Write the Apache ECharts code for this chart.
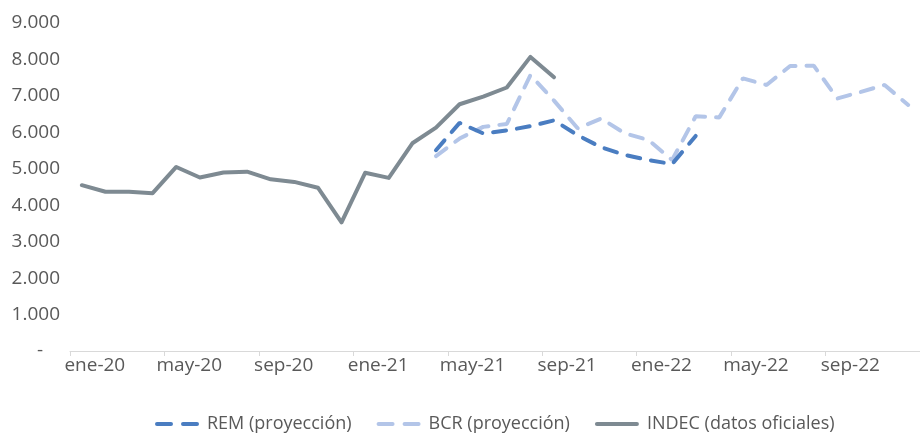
<!DOCTYPE html>
<html>
<head>
<meta charset="utf-8">
<script src="https://cdn.jsdelivr.net/npm/echarts@6/dist/echarts.min.js"></script>
<style>
  html, body { margin: 0; padding: 0; background: #fff; }
  #chart { width: 920px; height: 435px; }
</style>
</head>
<body>
<div id="chart"></div>
<script>
// meses ene-20 .. dic-22
var months = [
  "ene-20","feb-20","mar-20","abr-20","may-20","jun-20","jul-20","ago-20","sep-20","oct-20","nov-20","dic-20",
  "ene-21","feb-21","mar-21","abr-21","may-21","jun-21","jul-21","ago-21","sep-21","oct-21","nov-21","dic-21",
  "ene-22","feb-22","mar-22","abr-22","may-22","jun-22","jul-22","ago-22","sep-22","oct-22","nov-22","dic-22"
];

// INDEC (datos oficiales) ene-20 .. sep-21
var indec = [
  4550, 4370, 4370, 4330, 5050, 4760, 4900, 4920, 4710, 4640, 4480, 3530,
  4890, 4750, 5700, 6130, 6770, 6980, 7230, 8070, 7510
];

// REM (proyección) abr-21 .. mar-22
var rem = [5510, 6260, 5970, 6050, 6170, 6330, 5920, 5590, 5380, 5240, 5130, 5900];

// BCR (proyección) abr-21 .. dic-22
var bcr = [
  5350, 5830, 6150, 6230, 7570, 6870, 6110, 6380, 5970, 5790, 5240, 6440,
  6410, 7480, 7300, 7820, 7830, 6930, 7110, 7300, 6750
];

var yTicks = [0, 1000, 2000, 3000, 4000, 5000, 6000, 7000, 8000, 9000];

function pad(arr, start) {
  var out = [];
  for (var i = 0; i < months.length; i++) {
    var j = i - start;
    out.push(j >= 0 && j < arr.length ? arr[j] : null);
  }
  return out;
}

var startProj = months.indexOf("abr-21");

var dashIcon = "path://M2,0h14a2,2 0 0 1 0,4h-14a2,2 0 0 1 0,-4z M28,0h14a2,2 0 0 1 0,4h-14a2,2 0 0 1 0,-4z";
var solidIcon = "path://M2,0h40a2,2 0 0 1 0,4h-40a2,2 0 0 1 0,-4z";

var chart = echarts.init(document.getElementById("chart"));
var font = "'Open Sans', 'Noto Sans', sans-serif";

chart.setOption({
  animation: false,
  backgroundColor: "#ffffff",
  grid: { left: 70, right: -12, top: 23, bottom: 84 },
  legend: {
    left: 150,
    top: 410,
    itemWidth: 44,
    itemHeight: 4,
    itemGap: 25,
    textStyle: { fontFamily: font, fontSize: 18, color: "#595959", padding: [0, 0, 0, 3] },
    data: [
      { name: "REM (proyección)", icon: dashIcon },
      { name: "BCR (proyección)", icon: dashIcon },
      { name: "INDEC (datos oficiales)", icon: solidIcon }
    ]
  },
  xAxis: {
    type: "category",
    data: months,
    boundaryGap: true,
    axisLine: { lineStyle: { color: "#d9d9d9", width: 1 } },
    axisTick: { show: true, interval: 3, length: 5, lineStyle: { color: "#d9d9d9" } },
    axisLabel: {
      interval: 3,
      margin: 5,
      color: "#595959",
      fontFamily: font,
      fontSize: 19,
      padding: [0, 0, 0, 26]
    },
    splitLine: { show: false }
  },
  yAxis: {
    type: "value",
    min: yTicks[0],
    max: yTicks[yTicks.length - 1],
    interval: 1000,
    axisLine: { show: false },
    axisTick: { show: false },
    splitLine: { show: false },
    axisLabel: {
      margin: 10,
      color: "#595959",
      fontFamily: font,
      fontSize: 19,
      formatter: function (v) {
        if (v === 0) return "{d|-}";
        return String(v / 1000) + ".000";
      },
      rich: {
        d: { fontFamily: font, fontSize: 19, color: "#595959", padding: [0, 17, 0, 0] }
      }
    }
  },
  series: [
    {
      name: "REM (proyección)",
      type: "line",
      data: pad(rem, startProj),
      symbol: "none",
      z: 3,
      color: "#4a7dc1",
      lineStyle: { color: "#4a7dc1", width: 4, type: [13, 11], cap: "round" }
    },
    {
      name: "BCR (proyección)",
      type: "line",
      data: pad(bcr, startProj),
      symbol: "none",
      z: 2,
      color: "#b3c5e8",
      lineStyle: { color: "#b3c5e8", width: 4, type: [13, 11], cap: "round" }
    },
    {
      name: "INDEC (datos oficiales)",
      type: "line",
      data: pad(indec, 0),
      symbol: "none",
      z: 4,
      color: "#7e8a92",
      lineStyle: { color: "#7e8a92", width: 4, cap: "round", join: "round" }
    }
  ]
});
</script>
</body>
</html>
